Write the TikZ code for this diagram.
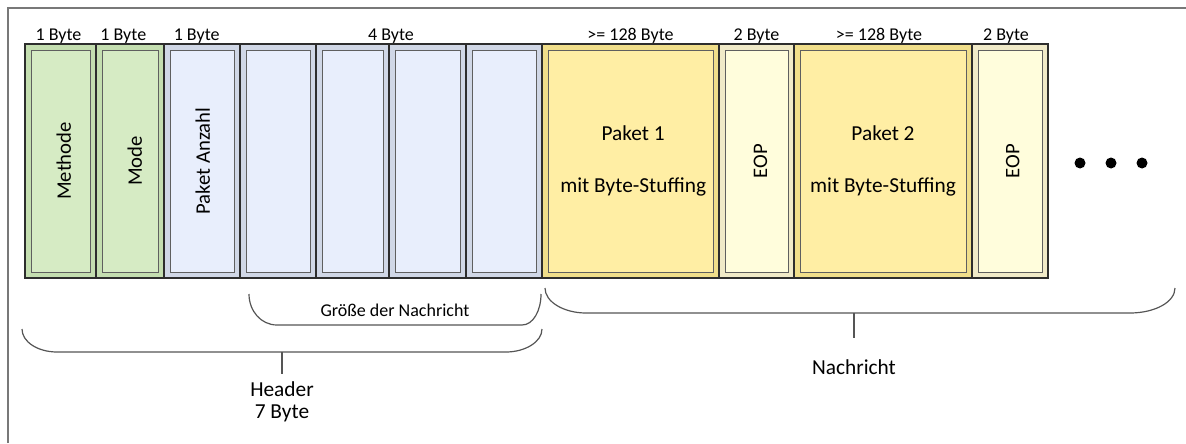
\documentclass[tikz,border=0pt]{standalone}
\usepackage{fontspec}
\setmainfont{Carlito}
\usepackage{tikz}
\usetikzlibrary{positioning,calc}
\definecolor{hdrframe}{RGB}{196,222,176}
\definecolor{hdrfill}{RGB}{214,235,196}
\definecolor{sizeframe}{RGB}{208,215,230}
\definecolor{sizefill}{RGB}{232,238,252}
\definecolor{pktframe}{RGB}{240,222,138}
\definecolor{pktfill}{RGB}{255,238,164}
\definecolor{eopframe}{RGB}{240,234,200}
\definecolor{eopfill}{RGB}{255,253,220}
\definecolor{boxline}{RGB}{45,45,45}
\definecolor{bevelline}{RGB}{95,95,95}
\definecolor{braceline}{RGB}{85,85,85}
\definecolor{frameline}{RGB}{120,120,120}
\tikzset{bevel/.style={path picture={\draw[draw=bevelline,line width=0.7pt,fill=#1]
  ([shift={(4.5pt,-4.5pt)}]path picture bounding box.north west) rectangle
  ([shift={(-4.5pt,4.5pt)}]path picture bounding box.south east);}}}
\tikzstyle{field}=[rectangle,draw=boxline,line width=1pt,minimum height=175.5pt,inner sep=0pt]
\tikzstyle{hdrbox}=[field,fill=hdrframe,bevel=hdrfill]
\tikzstyle{sizebox}=[field,fill=sizeframe,bevel=sizefill]
\tikzstyle{pktbox}=[field,fill=pktframe,bevel=pktfill]
\tikzstyle{eopbox}=[field,fill=eopframe,bevel=eopfill]
\tikzstyle{vlabel}=[rotate=90,font=\fontsize{15.5}{18}\selectfont]
\tikzstyle{pktlabel}=[align=center,font=\fontsize{16}{19}\selectfont]
\tikzstyle{bytelbl}=[font=\fontsize{13.5}{16}\selectfont,inner sep=1pt]
\tikzstyle{biglbl}=[align=center,font=\fontsize{16}{16.5}\selectfont,inner sep=3pt]
\tikzstyle{brace}=[draw=braceline,line width=0.9pt]
\tikzstyle{dot}=[circle,fill=black,minimum size=8.25pt,inner sep=0pt]

\begin{document}
\begin{tikzpicture}[x=0.75pt,y=-0.75pt]
  \useasboundingbox (0,0) rectangle (1186,443);
  \draw[frameline,line width=1.1pt] (8,443) -- (8,8) -- (1186,8);

  % header fields
  \node[hdrbox,minimum width=53.25pt] (methode) at (60.5,161) {};
  \node[hdrbox,minimum width=51pt] (mode) at (130,161) {};
  \node[sizebox,minimum width=57pt] (anzahl) at (202,161) {};
  \node[sizebox,minimum width=57pt] (g1) at (278,161) {};
  \node[sizebox,minimum width=54.75pt] (g2) at (352.5,161) {};
  \node[sizebox,minimum width=57.75pt] (g3) at (427.5,161) {};
  \node[sizebox,minimum width=57pt] (g4) at (504,161) {};
  % message
  \node[pktbox,minimum width=132.75pt] (paket1) at (630.5,161) {};
  \node[eopbox,minimum width=56.25pt] (eop1) at (756.5,161) {};
  \node[pktbox,minimum width=133.5pt] (paket2) at (883,161) {};
  \node[eopbox,minimum width=57pt] (eop2) at (1010,161) {};

  \node[vlabel] at ([xshift=2.5pt]methode) {Methode};
  \node[vlabel] at ([xshift=3.5pt]mode) {Mode};
  \node[vlabel] at ([xshift=0.5pt]anzahl) {Paket Anzahl};
  \node[pktlabel] at ([xshift=2pt]paket1) {Paket 1\\[19.5pt]mit Byte-Stuffing};
  \node[vlabel] at ([xshift=3pt]eop1) {EOP};
  \node[pktlabel] at (paket2) {Paket 2\\[19.5pt]mit Byte-Stuffing};
  \node[vlabel] at ([xshift=2pt]eop2) {EOP};

  % sizes
  \coordinate (gtop) at ($(g1.north west)!0.5!(g4.north east)$);
  \node[bytelbl,above=-1pt of methode.north,xshift=-1.5pt] (bmethode) {1 Byte};
  \node[bytelbl,above=-1pt of mode.north,xshift=-5pt] (bmode) {1 Byte};
  \node[bytelbl,above=-1pt of anzahl.north,xshift=-4pt] (banzahl) {1 Byte};
  \node[bytelbl,above=-1pt of gtop] (bgroesse) {4 Byte};
  \node[bytelbl,above=-1pt of paket1.north] (bpaket1) {>= 128 Byte};
  \node[bytelbl,above=-1.5pt of eop1.north] (beop1) {2 Byte};
  \node[bytelbl,above=-1pt of paket2.north,xshift=-3pt] (bpaket2) {>= 128 Byte};
  \node[bytelbl,above=-1pt of eop2.north,xshift=-3pt] (beop2) {2 Byte};

  \foreach \i/\x in {1/1080,2/1111,3/1142}
    \node[dot] (dot\i) at (\x,163) {};

  % braces
  \coordinate (gl) at (249,294);
  \coordinate (gr) at (541,294);
  \draw[brace] (gl) .. controls (249,311) and (261,325) .. (277,325) -- (522,325)
    .. controls (533,325) and (541,311) .. (gr);
  \node[bytelbl] (groesse) at (395,310) {Größe der Nachricht};

  \coordinate (hl) at (22,329);
  \coordinate (hr) at (542,329);
  \coordinate (hbrace) at (282,352);
  \draw[brace] (hl) .. controls (22,342) and (38,352) .. (57,352) -- (506,352)
    .. controls (525,352) and (542,342) .. (hr);
  \node[biglbl] (header) at (282,402) {Header\\7 Byte};
  \draw[brace,shorten >=3pt] (hbrace) -- (header);

  \coordinate (nl) at (545,288);
  \coordinate (nr) at (1175,288);
  \coordinate (nbrace) at (854,313);
  \draw[brace] (nl) .. controls (545,302) and (564,313) .. (586,313) -- (1130,313)
    .. controls (1155,313) and (1175,302) .. (nr);
  \node[biglbl] (nachricht) at (854,367) {Nachricht};
  \draw[brace,shorten >=13pt] (nbrace) -- (nachricht);
\end{tikzpicture}
\end{document}
